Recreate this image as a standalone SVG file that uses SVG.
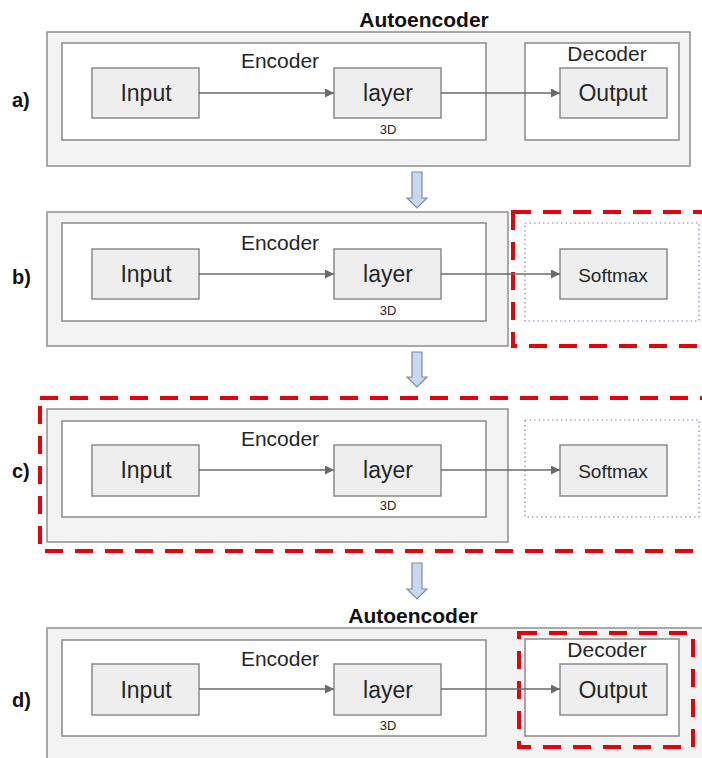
<svg xmlns="http://www.w3.org/2000/svg" width="702" height="758" viewBox="0 0 702 758">
<defs>
<style>
.outer{fill:#f3f3f3;stroke:#8f8f8f;stroke-width:1.5}
.inner{fill:#ffffff;stroke:#8a8a8a;stroke-width:1.5}
.node{fill:#eeeeee;stroke:#8a8a8a;stroke-width:1.5}
.dot{fill:none;stroke:#8080d0;stroke-width:1.2;stroke-dasharray:1.5 3}
.red{fill:none;stroke:#e8000b;stroke-width:4;stroke-dasharray:18 12}
.conn{stroke:#6a6a6a;stroke-width:1.5;fill:none;marker-end:url(#ah)}
.big{font-family:"Liberation Sans",Arial,sans-serif;font-size:23px;fill:#262626;text-anchor:middle}
.mid{font-family:"Liberation Sans",Arial,sans-serif;font-size:21px;fill:#262626;text-anchor:middle}
.sm{font-family:"Liberation Sans",Arial,sans-serif;font-size:19px;fill:#262626;text-anchor:middle}
.tiny{font-family:"Liberation Sans",Arial,sans-serif;font-size:13px;fill:#262626;text-anchor:middle}
.title{font-family:"Liberation Sans",Arial,sans-serif;font-size:21px;font-weight:bold;fill:#111;text-anchor:middle}
.lab{font-family:"Liberation Sans",Arial,sans-serif;font-size:20px;font-weight:bold;fill:#111}
.blk{fill:#c8d8ef;stroke:#7d8ca3;stroke-width:1.2}
</style>
<marker id="ah" viewBox="0 0 10 10" refX="10" refY="5" markerWidth="10" markerHeight="9" markerUnits="userSpaceOnUse" orient="auto">
<path d="M0,0 L10,5 L0,10 Z" fill="#6a6a6a"/>
</marker>
</defs>
<rect width="702" height="758" fill="#ffffff"/>

<!-- Panel a -->
<g id="panel-a">
<text class="lab" x="12" y="107">a)</text>
<text class="title" x="424" y="27">Autoencoder</text>
<rect class="outer" x="47" y="32" width="643" height="134"/>
<g id="a-encoder"><rect class="inner" x="62" y="43" width="424" height="97"/><text class="mid" x="280" y="68">Encoder</text></g>
<g id="a-decoder"><rect class="inner" x="525" y="43" width="154" height="97"/><text class="mid" x="607" y="61">Decoder</text></g>
<g id="a-input"><rect class="node" x="92" y="68" width="107" height="50"/><text class="big" x="146" y="101">Input</text></g>
<g id="a-layer"><rect class="node" x="334" y="68" width="107" height="50"/><text class="big" x="388" y="101">layer</text><text class="tiny" x="388" y="134">3D</text></g>
<g id="a-output"><rect class="node" x="560" y="68" width="107" height="50"/><text class="big" x="613" y="101">Output</text></g>
</g>

<!-- Panel b -->
<g id="panel-b">
<text class="lab" x="12" y="284">b)</text>
<rect class="outer" x="47" y="212" width="461" height="134"/>
<g id="b-encoder"><rect class="inner" x="62" y="223" width="424" height="98"/><text class="mid" x="280" y="250">Encoder</text></g>
<g id="b-softmax-area"><rect class="dot" x="525" y="223" width="174" height="98"/></g>
<g id="b-input"><rect class="node" x="92" y="249" width="107" height="50"/><text class="big" x="146" y="282">Input</text></g>
<g id="b-layer"><rect class="node" x="334" y="249" width="107" height="50"/><text class="big" x="388" y="282">layer</text><text class="tiny" x="388" y="315">3D</text></g>
<g id="b-softmax"><rect class="node" x="560" y="249" width="107" height="50"/><text class="sm" x="613" y="282">Softmax</text></g>
<g id="b-highlight"><rect class="red" x="513" y="212" width="220" height="134"/></g>
</g>

<!-- Panel c -->
<g id="panel-c">
<text class="lab" x="12" y="478">c)</text>
<rect class="outer" x="47" y="409" width="461" height="133"/>
<g id="c-encoder"><rect class="inner" x="62" y="421" width="424" height="96"/><text class="mid" x="280" y="446">Encoder</text></g>
<g id="c-softmax-area"><rect class="dot" x="525" y="420" width="174" height="97"/></g>
<g id="c-input"><rect class="node" x="92" y="445" width="107" height="51"/><text class="big" x="146" y="478">Input</text></g>
<g id="c-layer"><rect class="node" x="334" y="445" width="107" height="51"/><text class="big" x="388" y="478">layer</text><text class="tiny" x="388" y="510">3D</text></g>
<g id="c-softmax"><rect class="node" x="560" y="445" width="107" height="51"/><text class="sm" x="613" y="478">Softmax</text></g>
<g id="c-highlight"><rect class="red" x="40" y="398" width="700" height="153"/></g>
</g>

<!-- Panel d -->
<g id="panel-d">
<text class="lab" x="12" y="707">d)</text>
<text class="title" x="413" y="623">Autoencoder</text>
<rect class="outer" x="47" y="628" width="700" height="160"/>
<g id="d-encoder"><rect class="inner" x="62" y="640" width="424" height="96"/><text class="mid" x="280" y="666">Encoder</text></g>
<g id="d-decoder"><rect class="inner" x="525" y="639" width="154" height="97"/><text class="mid" x="607" y="657">Decoder</text></g>
<g id="d-input"><rect class="node" x="92" y="664" width="107" height="51"/><text class="big" x="146" y="698">Input</text></g>
<g id="d-layer"><rect class="node" x="334" y="664" width="107" height="51"/><text class="big" x="388" y="698">layer</text><text class="tiny" x="388" y="730">3D</text></g>
<g id="d-output"><rect class="node" x="560" y="664" width="107" height="51"/><text class="big" x="613" y="698">Output</text></g>
<g id="d-highlight"><rect class="red" x="519" y="633" width="174" height="114"/></g>
</g>

<!-- Block arrows between panels -->
<g id="step-arrows">
<path class="blk" d="M412,172 H422 V198 H427 L417,208 L407,198 H412 Z"/>
<path class="blk" d="M412,352 H422 V377 H427 L417,387 L407,377 H412 Z"/>
<path class="blk" d="M412,563 H422 V589 H427 L417,599 L407,589 H412 Z"/>
</g>

<!-- Connectors -->
<g id="connectors">
<line class="conn" x1="199" y1="93" x2="334" y2="93"/>
<line class="conn" x1="441" y1="93" x2="560" y2="93"/>
<line class="conn" x1="199" y1="274" x2="334" y2="274"/>
<line class="conn" x1="441" y1="274" x2="560" y2="274"/>
<line class="conn" x1="199" y1="470" x2="334" y2="470"/>
<line class="conn" x1="441" y1="470" x2="560" y2="470"/>
<line class="conn" x1="199" y1="689" x2="334" y2="689"/>
<line class="conn" x1="441" y1="689" x2="560" y2="689"/>
</g>
</svg>
